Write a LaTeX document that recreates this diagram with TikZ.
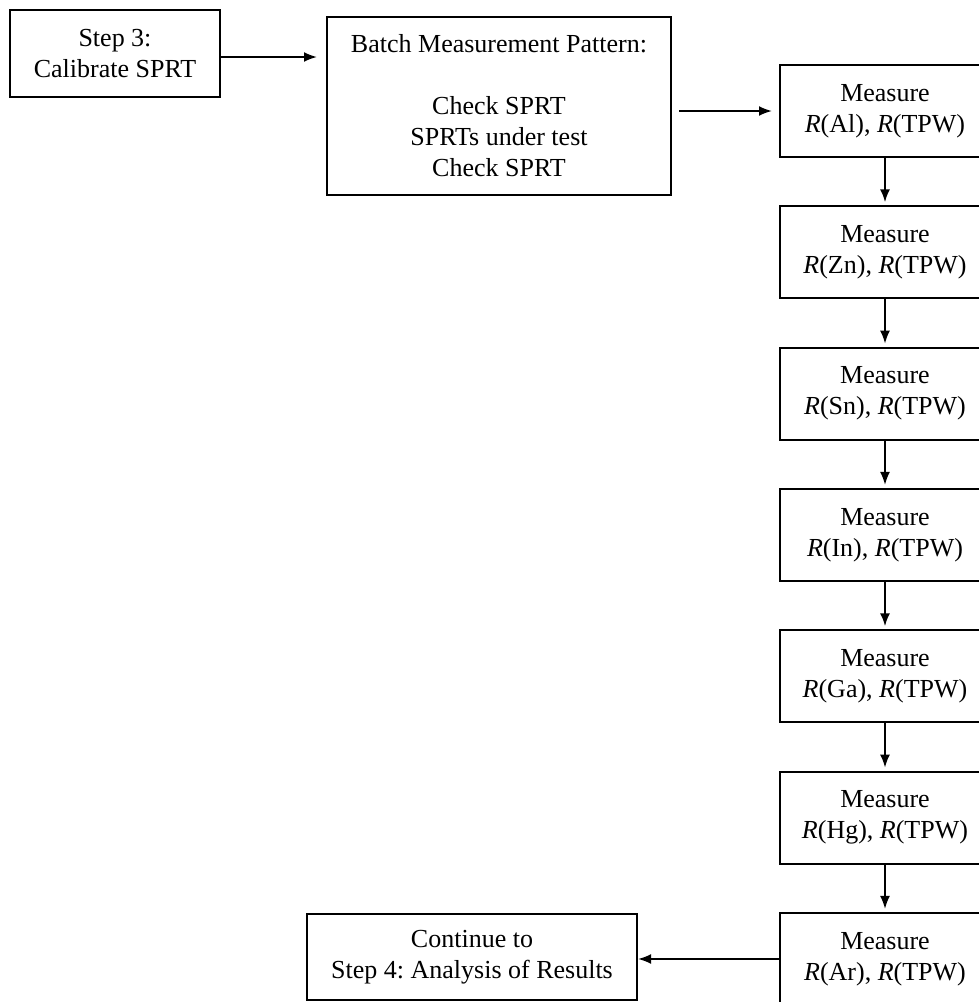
\documentclass[tikz,border=0pt]{standalone}
\usepackage{fontspec}
\setmainfont{Liberation Serif}
\usepackage{tikz}
\usetikzlibrary{%
  calc,%
  arrows.meta%
}
\newcommand\resist[1]{\textit{R}(#1), \textit{R}(TPW)}
\frenchspacing

\begin{document}
\begin{tikzpicture}[x=0.5pt,y=-0.5pt,
  box/.style={draw,line width=1pt,align=center,inner sep=0pt,
              font=\fontsize{13}{15.5}\selectfont},
  arr/.style={-{Latex[length=6.5pt,width=5pt]},line width=1pt}]

 %% page size (the right column runs off the edge)
 \useasboundingbox (0,0) rectangle (979,1002);
 \clip (0,0) rectangle (979,1002);

 %% top row
 \node[box,minimum width=105pt,minimum height=43.5pt] (step3) at (115,53.5)
   {Step 3:\\Calibrate SPRT};
 \node[box,minimum width=172pt,minimum height=89pt] (batch) at (499,106)
   {Batch Measurement Pattern:\\[15.5pt]Check SPRT\\SPRTs under test\\Check SPRT};

 %% measure column
 \foreach \el [count=\i] in {Al,Zn,Sn,In,Ga,Hg,Ar}
   \node[box,minimum width=105pt,minimum height=46pt] (m\i)
     at (885,{111+141.33*(\i-1)}) {Measure\\\resist{\el}};

 %% last step
 \node[box,minimum width=165pt,minimum height=43pt] (cont) at (472,957)
   {Continue to\\Step 4: Analysis of Results};

 %% arrows
 \draw[arr,shorten >=4.5pt] ([yshift=-1.75pt]step3.east)
   -- ([yshift=-1.75pt]step3.east -| batch.west);
 \draw[arr,shorten <=3.5pt,shorten >=3.5pt] (batch.east |- m1.west) -- (m1.west);
 \foreach \i [evaluate=\i as \j using int(\i+1)] in {1,...,6}
   \draw[arr,shorten >=1.5pt] (m\i.south) -- (m\j.north);
 \draw[arr] (m7.west) -- (m7.west -| cont.east);

\end{tikzpicture}
\end{document}
